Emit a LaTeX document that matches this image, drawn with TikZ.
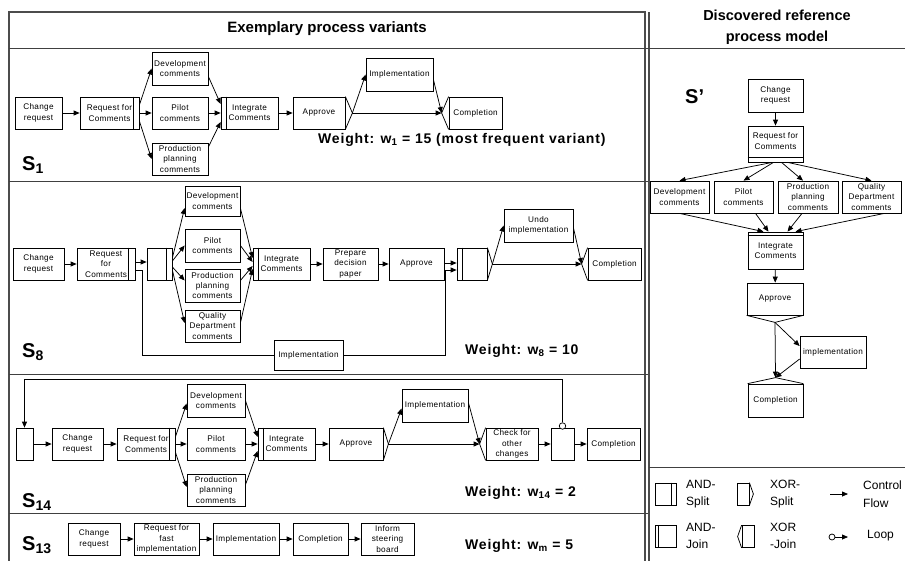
\documentclass[tikz,border=0pt]{standalone}
\usepackage{fontspec}
\setmainfont{Liberation Sans}
\newfontfamily\bxf[LetterSpace=4]{Liberation Sans}
\newfontfamily\wtf[LetterSpace=6]{Liberation Sans}
\usetikzlibrary{arrows.meta}
\begin{document}
\begin{tikzpicture}[x=1pt,y=-1pt,
  bx/.style={draw, line width=0.75pt, inner sep=0pt, align=center, font=\bxf\fontsize{8.2}{10.3}\selectfont},
  bb/.style 2 args={bx, minimum width=#1pt, minimum height=#2pt},
  arr/.style={-{Triangle[length=6pt,width=5pt]}, line width=0.75pt},
  ln/.style={line width=0.75pt},
  frame/.style={line width=1.3pt, black!70},
  div/.style={line width=0.9pt, black!75},
  wt/.style={font=\wtf\fontsize{14}{16}\selectfont\bfseries, anchor=west, inner sep=0pt},
  lab/.style={font=\fontsize{20}{20}\selectfont\bfseries, anchor=west, inner sep=0pt},
  leg/.style={font=\fontsize{12}{17.5}\selectfont, align=left, anchor=west, inner sep=0pt},
  hd/.style={font=\fontsize{15}{21}\selectfont\bfseries, align=center}
]
\useasboundingbox (0,0) rectangle (905,560);
\fill[white] (0,0) rectangle (905,560);

% ---------- frames ----------
\draw[frame] (9,562) -- (9,12) -- (645,12) -- (645,562);
\draw[frame] (649,12) -- (649,562);
\draw[div] (9,48) -- (905,48);
\draw[div] (9,181) -- (648,181);
\draw[div] (9,374) -- (648,374);
\draw[div] (9,513) -- (648,513);
\draw[div] (649,467) -- (905,467);

\node[hd] (h1) at (327,29) {Exemplary process variants};
\node[hd, font=\fontsize{14.5}{21}\selectfont\bfseries] (h2) at (777,27) {Discovered reference\\process model};

% ---------- S1 ----------
\node[bb={47}{32}] (s1cr) at (38.5,113) {Change\\request};
\node[bb={59}{32}] (s1rfc) at (109.5,113) {Request for\\Comments};
\draw[ln] ([xshift=-6pt]s1rfc.north east) -- ([xshift=-6pt]s1rfc.south east);
\node[bb={56}{33}] (s1dev) at (180,68.5) {Development\\comments};
\node[bb={56}{32}] (s1pil) at (180,113) {Pilot\\comments};
\node[bb={56}{32}] (s1pro) at (180,159) {Production\\planning\\comments};
\node[bb={57}{32}] (s1int) at (249.5,113) {Integrate\\Comments};
\draw[ln] ([xshift=6pt]s1int.north west) -- ([xshift=6pt]s1int.south west);
\node[bb={52}{32}] (s1app) at (319,113) {Approve};
\draw[ln] (s1app.north east) -- ([xshift=7pt]s1app.east) coordinate (s1appt) -- (s1app.south east);
\node[bb={67}{33}] (s1imp) at (399.5,74.5) {Implementation};
\node[bb={53}{32}] (s1com) at (475.5,113) {Completion};
\draw[ln] (s1com.north west) -- ([xshift=-7pt]s1com.west) coordinate (s1comt) -- (s1com.south west);

\draw[arr] (s1cr) -- (s1rfc);
\draw[arr] ([yshift=8pt]s1rfc.east) -- (s1dev.west);
\draw[arr] (s1rfc) -- (s1pil);
\draw[arr] ([yshift=-8pt]s1rfc.east) -- (s1pro.west);
\draw[arr] ([yshift=-8pt]s1dev.east) -- ([yshift=9pt]s1int.west);
\draw[arr] (s1pil) -- (s1int);
\draw[arr] ([yshift=12pt]s1pro.east) -- ([yshift=-9pt]s1int.west);
\draw[arr] (s1int) -- (s1app);
\draw[arr] (s1appt) -- (s1imp.west);
\draw[arr] (s1appt) -- (s1comt);
\draw[arr] ([yshift=-5pt]s1imp.east) -- (s1comt);

\node[lab] (s1l) at (22,165) {S\textsubscript{1}};
\node[wt] (s1w) at (318,140) {Weight: w\textsubscript{1} = 15 (most frequent variant)};

% ---------- S8 ----------
\node[bb={51}{32}] (s8cr) at (38.5,264) {Change\\request};
\node[bb={58}{32}] (s8rfc) at (106,264) {Request\\for\\Comments};
\draw[ln] ([xshift=-7pt]s8rfc.north east) -- ([xshift=-7pt]s8rfc.south east);
\node[bb={25}{32}] (s8and) at (159.5,264) {};
\draw[ln] ([xshift=-6pt]s8and.north east) -- ([xshift=-6pt]s8and.south east);
\node[bb={55}{30}] (s8dev) at (212.5,201) {Development\\comments};
\node[bb={55}{33}] (s8pil) at (212.5,245.5) {Pilot\\comments};
\node[bb={55}{33}] (s8pro) at (212.5,285.5) {Production\\planning\\comments};
\node[bb={55}{32}] (s8qua) at (212.5,326) {Quality\\Department\\comments};
\node[bb={57}{32}] (s8int) at (281.5,264) {Integrate\\Comments};
\draw[ln] ([xshift=6pt]s8int.north west) -- ([xshift=6pt]s8int.south west);
\node[bb={55}{32}] (s8pre) at (350.5,264) {Prepare\\decision\\paper};
\node[bb={55}{32}] (s8app) at (416.5,264) {Approve};
\node[bb={30}{32}] (s8x) at (472,264) {};
\draw[ln] ([xshift=6pt]s8x.north west) -- ([xshift=6pt]s8x.south west);
\draw[ln] (s8x.north east) -- ([xshift=5pt]s8x.east) coordinate (s8xt) -- (s8x.south east);
\node[bb={69}{33}] (s8und) at (538.5,225.5) {Undo\\implementation};
\node[bb={53}{32}] (s8com) at (614.5,264) {Completion};
\draw[ln] (s8com.north west) -- ([xshift=-6pt]s8com.west) coordinate (s8comt) -- (s8com.south west);
\node[bb={69}{30}] (s8imp) at (308.5,355) {Implementation};

\draw[arr] (s8cr) -- (s8rfc);
\draw[arr] ([yshift=2pt]s8rfc.east) -- ([yshift=2pt]s8and.west);
\draw[ln] ([yshift=-6pt]s8rfc.east) -- ++(7,0) |- (s8imp.west);
\draw[arr] ([yshift=6pt]s8and.east) -- ([yshift=-7pt]s8dev.west);
\draw[arr] ([yshift=3pt]s8and.east) -- (s8pil.west);
\draw[arr] ([yshift=-3pt]s8and.east) -- ([yshift=5pt]s8pro.west);
\draw[arr] ([yshift=-6pt]s8and.east) -- ([yshift=3pt]s8qua.west);
\draw[arr] ([yshift=-7pt]s8dev.east) -- ([yshift=6pt]s8int.west);
\draw[arr] (s8pil.east) -- ([yshift=2pt]s8int.west);
\draw[arr] ([yshift=5pt]s8pro.east) -- ([yshift=-2pt]s8int.west);
\draw[arr] ([yshift=3pt]s8qua.east) -- ([yshift=-5pt]s8int.west);
\draw[arr] (s8int) -- (s8pre);
\draw[arr] (s8pre) -- (s8app);
\draw[arr] ([yshift=1pt]s8app.east) -- ([yshift=1pt]s8x.west);
\draw[arr] (s8imp.east) -| ([xshift=-11pt,yshift=-6pt]s8x.west) -- ([yshift=-6pt]s8x.west);
\draw[arr] (s8xt) -- (s8und.west);
\draw[arr] (s8xt) -- (s8comt);
\draw[arr] ([yshift=-2pt]s8und.east) -- (s8comt);

\node[lab] (s8l) at (22,352) {S\textsubscript{8}};
\node[wt] (s8w) at (465,351) {Weight: w\textsubscript{8} = 10};

% ---------- S14 ----------
\node[bb={17}{32}] (s14lp) at (24.5,444) {};
\node[bb={51}{32}] (s14cr) at (77.5,444) {Change\\request};
\node[bb={58}{32}] (s14rfc) at (146,444) {Request for\\Comments};
\draw[ln] ([xshift=-6pt]s14rfc.north east) -- ([xshift=-6pt]s14rfc.south east);
\node[bb={58}{33}] (s14dev) at (216,400.5) {Development\\comments};
\node[bb={58}{32}] (s14pil) at (216,444) {Pilot\\comments};
\node[bb={58}{32}] (s14pro) at (216,490) {Production\\planning\\comments};
\node[bb={57}{32}] (s14int) at (286.5,444) {Integrate\\Comments};
\draw[ln] ([xshift=6pt]s14int.north west) -- ([xshift=6pt]s14int.south west);
\node[bb={54}{32}] (s14app) at (356,444) {Approve};
\draw[ln] (s14app.north east) -- ([xshift=5pt]s14app.east) coordinate (s14appt) -- (s14app.south east);
\node[bb={66}{33}] (s14imp) at (435,405.5) {Implementation};
\node[bb={52}{32}] (s14chk) at (512,444) {Check for\\other\\changes};
\draw[ln] (s14chk.north west) -- ([xshift=-6pt]s14chk.west) coordinate (s14chkt) -- (s14chk.south west);
\node[bb={23}{32}] (s14lb) at (562.5,444) {};
\node[circle, draw, line width=0.75pt, fill=white, inner sep=0pt, minimum size=6.5pt] (s14lc) at (562.5,426) {};
\node[bb={53}{32}] (s14com) at (613.5,444) {Completion};

\draw[arr] (s14lc.north) |- ([yshift=48pt]s14lp.north) -- (s14lp.north);
\draw[arr] (s14lp) -- (s14cr);
\draw[arr] (s14cr) -- (s14rfc);
\draw[arr] ([yshift=7pt]s14rfc.east) -- ([yshift=-3pt]s14dev.west);
\draw[arr] (s14rfc) -- (s14pil);
\draw[arr] ([yshift=-8pt]s14rfc.east) -- ([yshift=3pt]s14pro.west);
\draw[arr] (s14dev.east) -- ([yshift=7pt]s14int.west);
\draw[arr] (s14pil) -- (s14int);
\draw[arr] ([yshift=5pt]s14pro.east) -- ([yshift=-7pt]s14int.west);
\draw[arr] (s14int) -- (s14app);
\draw[arr] (s14appt) -- ([yshift=-3pt]s14imp.west);
\draw[arr] (s14appt) -- (s14chkt);
\draw[arr] ([yshift=3pt]s14imp.east) -- (s14chkt);
\draw[arr] (s14chk) -- (s14lb);
\draw[arr] (s14lb) -- (s14com);

\node[lab] (s14l) at (22,502) {S\textsubscript{14}};
\node[wt] (s14w) at (465,493) {Weight: w\textsubscript{14} = 2};

% ---------- S13 ----------
\node[bb={52}{32}] (s13cr) at (94,539) {Change\\request};
\node[bb={65}{32}] (s13rfi) at (166.5,539) {Request for\\fast\\implementation};
\node[bb={66}{32}] (s13imp) at (246,539) {Implementation};
\node[bb={55}{32}] (s13com) at (320.5,539) {Completion};
\node[bb={53}{32}] (s13inf) at (387.5,539) {Inform\\steering\\board};
\draw[arr] (s13cr) -- (s13rfi);
\draw[arr] (s13rfi) -- (s13imp);
\draw[arr] (s13imp) -- (s13com);
\draw[arr] (s13com) -- (s13inf);

\node[lab] (s13l) at (22,545) {S\textsubscript{13}};
\node[wt] (s13w) at (465,546) {Weight: w\textsubscript{m} = 5};

% ---------- Reference model ----------
\node[lab] (spl) at (685,97) {S’};
\node[bb={55}{33}] (rcr) at (775.5,95.5) {Change\\request};
\node[bb={55}{36}, text depth=6pt] (rrfc) at (775.5,144) {Request for\\Comments};
\draw[ln] ([yshift=5pt]rrfc.south west) -- ([yshift=5pt]rrfc.south east);
\node[bb={59}{32}] (rdev) at (679.5,197) {Development\\comments};
\node[bb={59}{32}] (rpil) at (743.5,197) {Pilot\\comments};
\node[bb={60}{32}] (rpro) at (808,197) {Production\\planning\\comments};
\node[bb={59}{32}] (rqua) at (871.5,197) {Quality\\Department\\comments};
\node[bb={55}{37}] (rint) at (775.5,250.5) {Integrate\\Comments};
\draw[ln] ([yshift=-4pt]rint.north west) -- ([yshift=-4pt]rint.north east);
\node[bb={56}{32}] (rapp) at (775,299) {Approve};
\draw[ln] (rapp.south west) -- ([yshift=-7pt]rapp.south) coordinate (rappt) -- (rapp.south east);
\node[bb={66}{32}] (rimp) at (833,352) {implementation};
\node[bb={55}{33}] (rcom) at (775.5,400.5) {Completion};
\draw[ln] (rcom.north west) -- ([yshift=6pt]rcom.north) coordinate (rcomt) -- (rcom.north east);

\draw[arr] (rcr) -- (rrfc);
\draw[arr] ([xshift=-3pt]rrfc.south) -- (rdev.north);
\draw[arr] ([xshift=-2pt]rrfc.south) -- (rpil.north);
\draw[arr] ([xshift=6pt]rrfc.south) -- ([xshift=-5pt]rpro.north);
\draw[arr] ([xshift=12pt]rrfc.south) -- (rqua.north);
\draw[arr] (rdev.south) -- ([xshift=-12pt]rint.north);
\draw[arr] ([xshift=12pt]rpil.south) -- ([xshift=-7pt]rint.north);
\draw[arr] ([xshift=-6pt]rpro.south) -- ([xshift=12pt]rint.north);
\draw[arr] ([xshift=13pt]rqua.south) -- ([xshift=20pt]rint.north);
\draw[arr] (rint) -- (rapp);
\draw[arr] (rappt) -- ([yshift=6pt]rimp.west);
\draw[arr] (rappt) -- (rcomt);
\draw[arr] ([yshift=-7pt]rimp.west) -- (rcomt);

% ---------- Legend ----------
\node[draw, line width=0.75pt, inner sep=0pt, minimum width=21pt, minimum height=22pt] (lgas) at (665.5,494) {};
\draw[ln] ([xshift=-5pt]lgas.north east) -- ([xshift=-5pt]lgas.south east);
\node[leg] (lgast) at (686,494) {AND-\\Split};
\node[draw, line width=0.75pt, inner sep=0pt, minimum width=12pt, minimum height=22pt] (lgxs) at (743,494) {};
\draw[ln] (lgxs.north east) -- ([xshift=4pt]lgxs.east) -- (lgxs.south east);
\node[leg] (lgxst) at (770,494) {XOR-\\Split};
\coordinate (lgcf1) at (830,494);
\coordinate (lgcf2) at (848,494);
\draw[arr] (lgcf1) -- (lgcf2);
\node[leg] (lgcft) at (863,494) {Control\\Flow};

\node[draw, line width=0.75pt, inner sep=0pt, minimum width=21pt, minimum height=22pt] (lgaj) at (665.5,536.5) {};
\draw[ln] ([xshift=4pt]lgaj.north west) -- ([xshift=4pt]lgaj.south west);
\node[leg] (lgajt) at (686,536) {AND-\\Join};
\node[draw, line width=0.75pt, inner sep=0pt, minimum width=12pt, minimum height=22pt] (lgxj) at (748,536.5) {};
\draw[ln] (lgxj.north west) -- ([xshift=-4pt]lgxj.west) -- (lgxj.south west);
\node[leg] (lgxjt) at (770,536) {XOR\\-Join};
\node[circle, draw, line width=0.75pt, inner sep=0pt, minimum size=6pt] (lglc) at (832,537) {};
\coordinate (lglp) at (848,537);
\draw[arr] (lglc) -- (lglp);
\node[leg] (lglpt) at (867,536) {Loop};
\end{tikzpicture}
\end{document}
